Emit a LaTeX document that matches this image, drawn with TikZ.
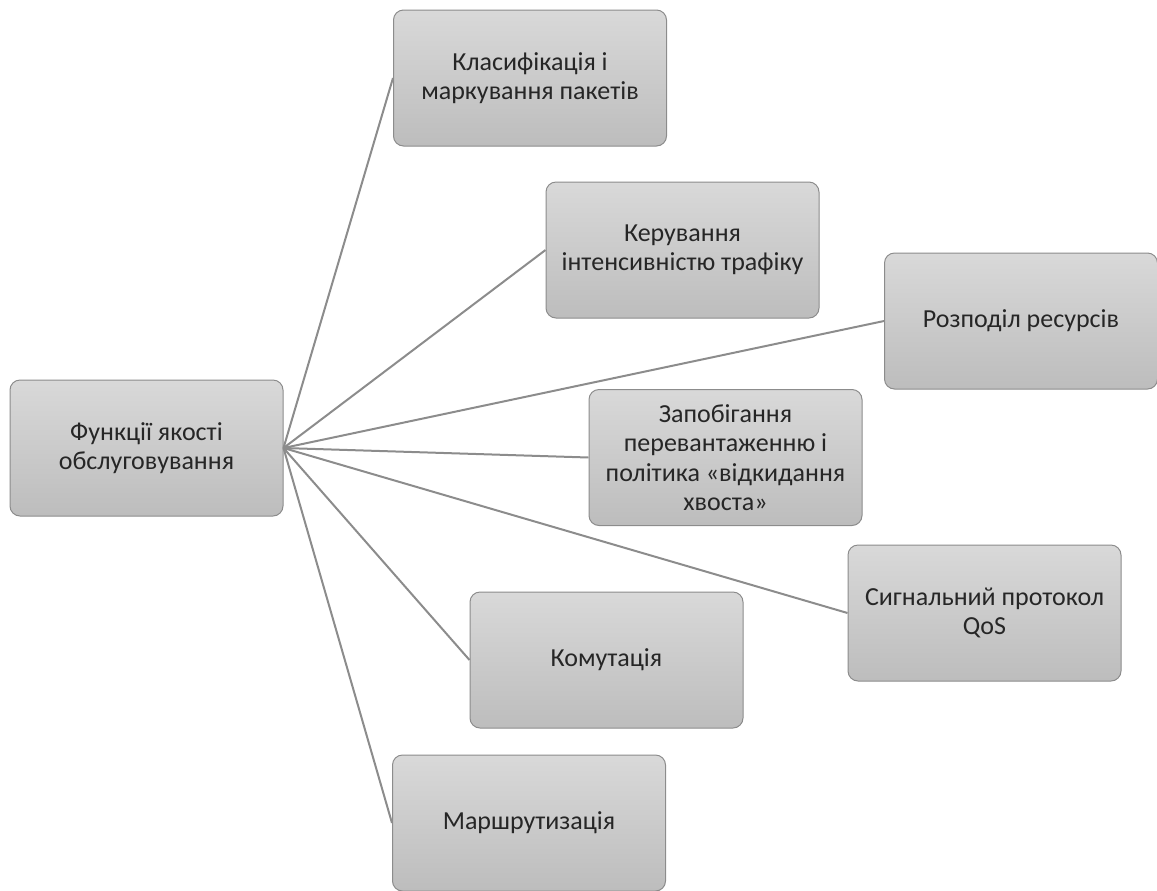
\documentclass[tikz,border=0pt]{standalone}
\usepackage{fontspec}
\setmainfont{Carlito}
\usepackage{xcolor}
\usepackage{tikz}

\tikzset{
  funcbox/.style={draw=black!45, line width=0.75pt, rounded corners=7.5pt,
    top color=black!15, bottom color=black!26,
    minimum width=204.75pt, minimum height=102pt, align=center,
    text=black!85, font=\fontsize{19.5}{22}\selectfont},
  link/.style={draw=black!45, line width=1.5pt}
}

\begin{document}
\begin{tikzpicture}[x=0.75pt,y=0.75pt,yscale=-1,xscale=1]
\useasboundingbox (0,0) rectangle (1157,890);
% Text Node
\node [funcbox] (qos) at (146.5,448) {Функції якості\\обслуговування};
% Text Node
\node [funcbox] (klas) at (530,78) {Класифікація і\\маркування пакетів};
% Text Node
\node [funcbox] (keruv) at (682.5,250) {Керування\\інтенсивністю трафіку};
% Text Node
\node [funcbox] (rozp) at (1021,321) {Розподіл ресурсів};
% Text Node
\node [funcbox] (zapob) at (725.5,457.5) {Запобігання\\перевантаженню і\\політика «відкидання\\хвоста»};
% Text Node
\node [funcbox] (syhn) at (984.5,613) {Сигнальний протокол\\QoS};
% Text Node
\node [funcbox] (komut) at (606.5,660) {Комутація};
% Text Node
\node [funcbox] (marsh) at (529,823) {Маршрутизація};
%Straight Lines
\foreach \t in {klas,keruv,rozp,zapob,syhn,komut,marsh}
  \draw [link] (qos.east) -- (\t.west) ;
\end{tikzpicture}
\end{document}
